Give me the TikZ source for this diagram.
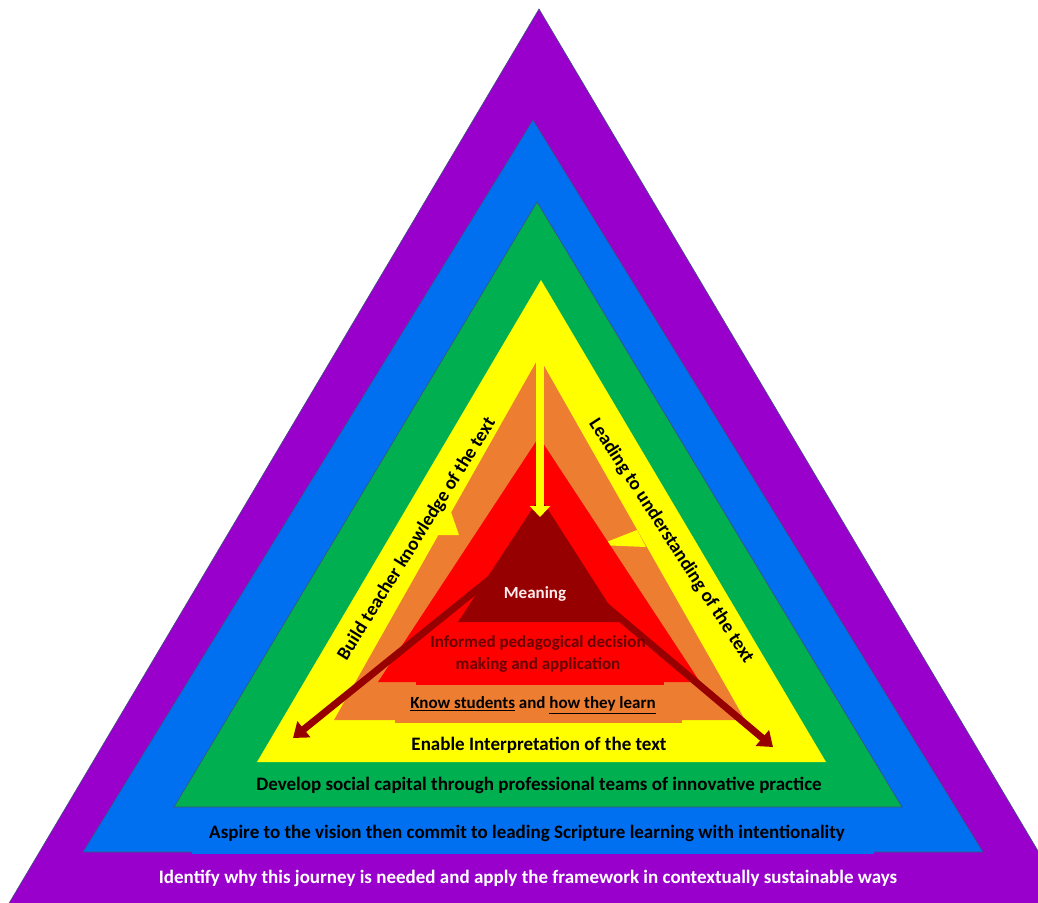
\documentclass[tikz,border=0pt]{standalone}
\usepackage{fontspec}
\setmainfont{Carlito}
\usetikzlibrary{arrows.meta}

\definecolor{bandpurple}{RGB}{153,0,204}
\definecolor{bandblue}{RGB}{0,112,240}
\definecolor{bandgreen}{RGB}{0,176,80}
\definecolor{bandyellow}{RGB}{255,255,0}
\definecolor{bandorange}{RGB}{237,125,49}
\definecolor{bandred}{RGB}{255,0,0}
\definecolor{banddark}{RGB}{150,0,0}
\definecolor{edgeline}{RGB}{60,80,130}
\definecolor{maroontext}{RGB}{105,0,0}

\tikzset{
  outer band/.style={draw=edgeline, line width=0.6pt, line join=miter},
  label text/.style={font=\bfseries\fontsize{19}{22}\selectfont, inner sep=0pt, anchor=center},
  inner text/.style={font=\bfseries\fontsize{17}{22}\selectfont, inner sep=0pt, anchor=center},
  side text/.style={font=\bfseries\fontsize{19}{22}\selectfont, inner sep=0pt, anchor=center},
  down arrow/.style={draw=bandyellow, line width=8pt, -{Triangle[width=20pt,length=11pt]}},
  out arrow/.style={draw=banddark, line width=7pt, -{Triangle[width=20pt,length=14pt]}},
}

\begin{document}
\begin{tikzpicture}[x=1pt,y=-1pt]
\useasboundingbox (0,0) rectangle (1038,902);
\clip (0,0) rectangle (1038,902);
\fill[white] (0,0) rectangle (1038,902);

% nested layers, outermost first
\fill[bandpurple, outer band] (539,9) -- (1070,905) -- (8,905) -- cycle;
\fill[bandblue, outer band] (533,120) -- (983,852) -- (83,852) -- cycle;
\fill[bandblue] (192,840) rectangle (874,854);
\fill[bandgreen, outer band] (537,202) -- (902,807) -- (174,807) -- cycle;
\fill[bandyellow] (541,280) -- (826,762) -- (257,762) -- cycle;
\fill[bandorange] (539,357) -- (745,720) -- (334,720) -- cycle;
\fill[bandorange] (395,705) rectangle (682,723);
% barbs of the two side strips
\fill[bandyellow] (451,512) -- (459,535) -- (437,535) -- cycle;
\fill[bandyellow] (637,530) -- (599,545) -- (646,547) -- cycle;
\fill[bandred] (539,437) -- (700,682) -- (378,682) -- cycle;
\fill[bandred] (416,665) rectangle (664,685);
\fill[banddark] (540,497) -- (620,622) -- (458,622) -- cycle;

% arrows
\coordinate (topstart) at (540,356);
\coordinate (topend) at (540,517);
\coordinate (lstart) at (490,579);
\coordinate (lend) at (293,738);
\coordinate (rstart) at (595,597);
\coordinate (rend) at (773,747);
\draw[down arrow] (topstart) -- (topend);
\draw[out arrow] (lstart) -- (lend);
\draw[out arrow] (rstart) -- (rend);

% texts
\node[label text, text=white] (identify) at (528,878)
  {Identify why this journey is needed and apply the framework in contextually sustainable ways};
\node[label text] (aspire) at (527,833)
  {Aspire to the vision then commit to leading Scripture learning with intentionality};
\node[label text] (develop) at (539,785)
  {Develop social capital through professional teams of innovative practice};
\node[label text] (enable) at (539,745) {Enable Interpretation of the text};
\node[inner text] (know) at (533,705) {\underline{Know students} and \underline{how they learn}};
\node[inner text, text=maroontext, align=center] (informed) at (538,654)
  {Informed pedagogical decision\\making and application};
\node[inner text, text=white!92!red] (meaning) at (535,594) {Meaning};
\node[side text, rotate=58] (build) at (417,539) {Build teacher knowledge of the text};
\node[side text, rotate=-57] (leading) at (671,541) {Leading to understanding of the text};
\end{tikzpicture}
\end{document}
